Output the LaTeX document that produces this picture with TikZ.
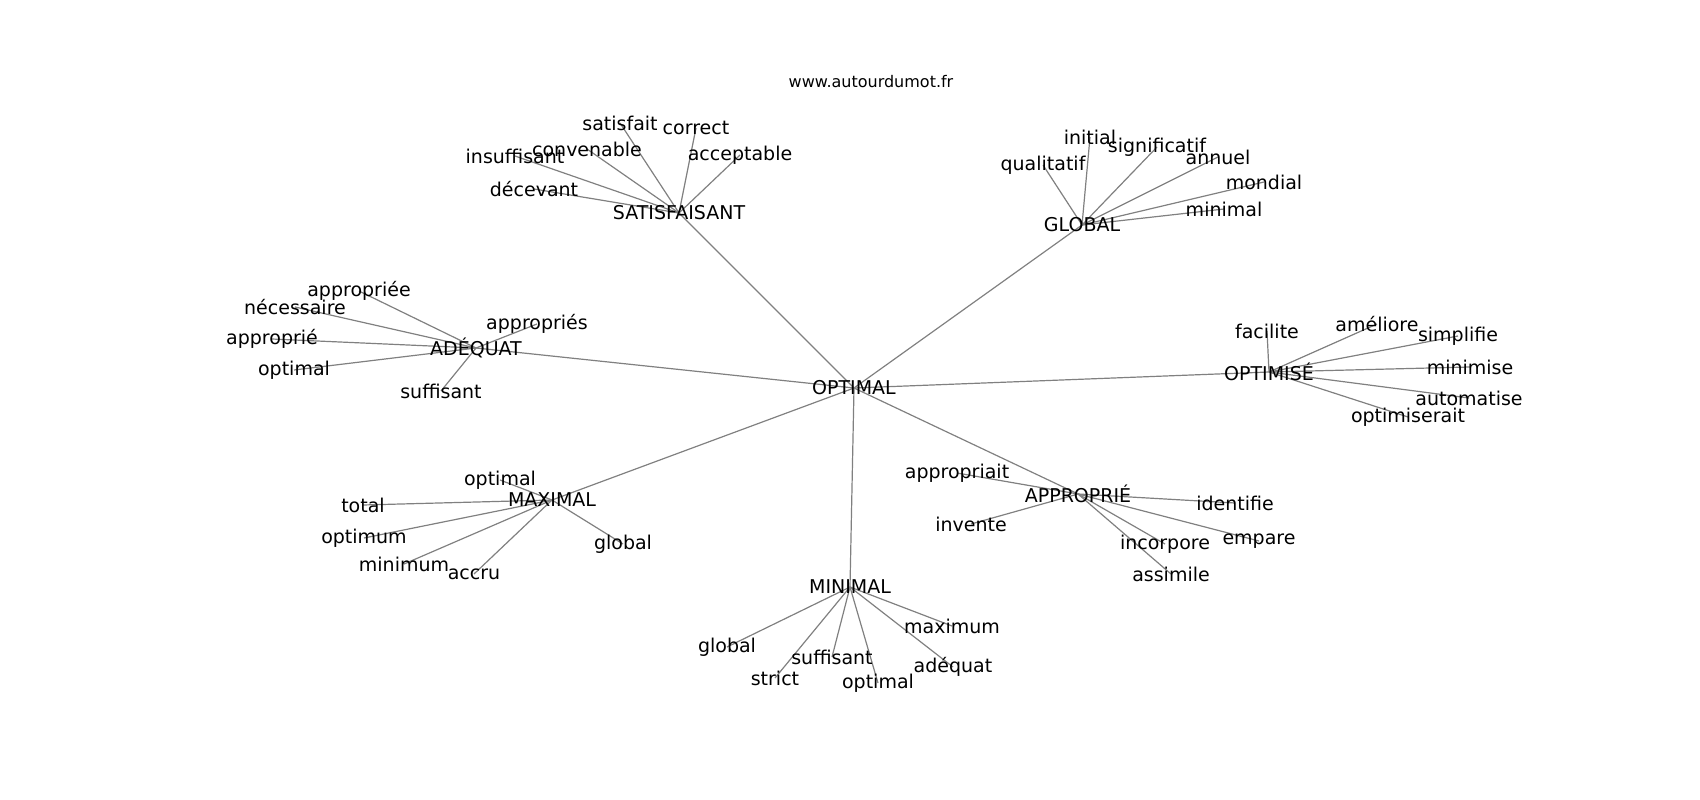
\documentclass[tikz,border=0pt]{standalone}
\usepackage{fontspec}
\setmainfont{DejaVu Sans}
\usetikzlibrary{backgrounds}
\begin{document}
\begin{tikzpicture}[x=1pt,y=-1pt,
  word/.style={inner sep=0pt,anchor=center,font=\fontsize{19}{22}\selectfont,text=black},
  link/.style={draw=black!50,line width=1.2pt}]
\useasboundingbox (0,0) rectangle (1700,800);
\node[inner sep=0pt,font=\fontsize{16}{19}\selectfont] (title) at (871,82) {www.autourdumot.fr};
% hubs
\node[word] (opt) at (854,388) {OPTIMAL};
\node[word] (sat) at (679,213) {SATISFAISANT};
\node[word] (glo) at (1082,225) {GLOBAL};
\node[word] (ade) at (476,348) {ADÉQUAT};
\node[word] (opz) at (1269,372) {OPTIMISÉ};
\node[word] (max) at (552,500) {MAXIMAL};
\node[word] (app) at (1078,494) {APPROPRIÉ};
\node[word] (min) at (850,587) {MINIMAL};
% satisfaisant
\node[word] (s1) at (620,123) {satisfait};
\node[word] (s2) at (696,128) {correct};
\node[word] (s3) at (587,149) {convenable};
\node[word] (s4) at (515,156) {insuffisant};
\node[word] (s5) at (740,155) {acceptable};
\node[word] (s6) at (534,189) {décevant};
% global
\node[word] (g1) at (1090,137) {initial};
\node[word] (g2) at (1157,147) {significatif};
\node[word] (g3) at (1043,165) {qualitatif};
\node[word] (g4) at (1218,157) {annuel};
\node[word] (g5) at (1264,182) {mondial};
\node[word] (g6) at (1224,209) {minimal};
% adequat
\node[word] (a1) at (359,291) {appropriée};
\node[word] (a2) at (295,307) {nécessaire};
\node[word] (a3) at (272,339) {approprié};
\node[word] (a4) at (294,370) {optimal};
\node[word] (a5) at (537,324) {appropriés};
\node[word] (a6) at (441,391) {suffisant};
% optimise
\node[word] (o1) at (1267,331) {facilite};
\node[word] (o2) at (1377,324) {améliore};
\node[word] (o3) at (1458,336) {simplifie};
\node[word] (o4) at (1470,367) {minimise};
\node[word] (o5) at (1469,398) {automatise};
\node[word] (o6) at (1408,417) {optimiserait};
% maximal
\node[word] (m1) at (500,480) {optimal};
\node[word] (m2) at (363,505) {total};
\node[word] (m3) at (364,538) {optimum};
\node[word] (m4) at (404,564) {minimum};
\node[word] (m5) at (474,574) {accru};
\node[word] (m6) at (623,544) {global};
% approprie
\node[word] (p1) at (957,473) {appropriait};
\node[word] (p2) at (971,524) {invente};
\node[word] (p3) at (1235,503) {identifie};
\node[word] (p4) at (1259,541) {empare};
\node[word] (p5) at (1165,544) {incorpore};
\node[word] (p6) at (1171,574) {assimile};
% minimal
\node[word] (n1) at (727,647) {global};
\node[word] (n2) at (775,678) {strict};
\node[word] (n3) at (832,657) {suffisant};
\node[word] (n4) at (878,683) {optimal};
\node[word] (n5) at (953,667) {adéquat};
\node[word] (n6) at (952,626) {maximum};
\begin{pgfonlayer}{background}
\foreach \h in {sat,glo,ade,opz,max,app,min}
  \draw[link] (opt.center) -- (\h.center);
\foreach \l in {s1,s2,s3,s4,s5,s6}
  \draw[link] (sat.center) -- (\l.center);
\foreach \l in {g1,g2,g3,g4,g5,g6}
  \draw[link] (glo.center) -- (\l.center);
\foreach \l in {a1,a2,a3,a4,a5,a6}
  \draw[link] (ade.center) -- (\l.center);
\foreach \l in {o1,o2,o3,o4,o5,o6}
  \draw[link] (opz.center) -- (\l.center);
\foreach \l in {m1,m2,m3,m4,m5,m6}
  \draw[link] (max.center) -- (\l.center);
\foreach \l in {p1,p2,p3,p4,p5,p6}
  \draw[link] (app.center) -- (\l.center);
\foreach \l in {n1,n2,n3,n4,n5,n6}
  \draw[link] (min.center) -- (\l.center);
\end{pgfonlayer}
\end{tikzpicture}
\end{document}
